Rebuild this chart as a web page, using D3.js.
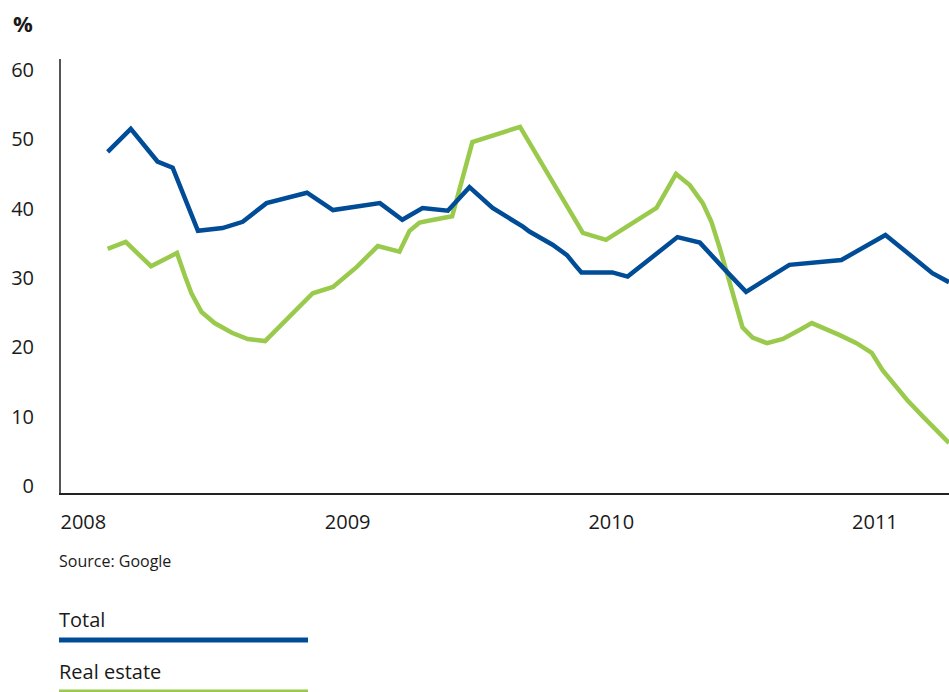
<!DOCTYPE html>
<html>
<head>
<meta charset="utf-8">
<script src="https://cdn.jsdelivr.net/npm/d3@7"></script>
<style>
  html, body { margin: 0; padding: 0; background: #fff; }
  svg { display: block; font-family: "Open Sans", "DejaVu Sans", sans-serif; }
</style>
</head>
<body>
<svg id="chart" width="949" height="692"></svg>
<script>
// Share of searches, %, at irregular sample dates
const totalDates = ["2008-03-07","2008-04-08","2008-05-15","2008-06-05","2008-07-10","2008-08-13","2008-09-10","2008-10-13","2008-12-08","2009-01-13","2009-03-19","2009-04-19","2009-05-17","2009-06-21","2009-07-21","2009-08-22","2009-10-03","2009-10-12","2009-11-13","2009-12-03","2009-12-14","2009-12-23","2010-02-04","2010-02-25","2010-05-05","2010-06-05","2010-07-07","2010-08-08","2010-10-07","2010-12-18","2011-02-17","2011-03-27","2011-04-23","2011-05-16"];
const totalValues = [48.2,51.5,46.8,45.9,36.8,37.2,38.1,40.8,42.3,39.8,40.8,38.4,40.1,39.7,43.1,40.1,37.4,36.7,34.8,33.3,31.9,30.8,30.8,30.2,35.9,35.1,31.5,28.0,31.9,32.6,36.2,33.0,30.7,29.4];

const realEstateDates = ["2008-03-07","2008-04-01","2008-05-06","2008-06-11","2008-06-22","2008-07-01","2008-07-15","2008-08-02","2008-08-26","2008-09-17","2008-10-11","2008-12-16","2009-01-13","2009-02-15","2009-03-16","2009-04-15","2009-04-29","2009-05-13","2009-05-27","2009-06-27","2009-07-25","2009-09-29","2009-12-25","2010-01-26","2010-04-06","2010-05-03","2010-05-22","2010-06-09","2010-06-21","2010-07-02","2010-07-14","2010-07-26","2010-08-03","2010-08-17","2010-09-06","2010-09-28","2010-10-21","2010-11-07","2010-12-15","2011-01-08","2011-01-29","2011-02-13","2011-03-19","2011-04-10","2011-05-16"];
const realEstateValues = [34.2,35.2,31.7,33.6,30.3,27.8,25.1,23.5,22.1,21.2,20.9,27.8,28.7,31.6,34.6,33.8,36.8,38.0,38.3,38.9,49.6,51.8,36.5,35.5,40.1,45.0,43.4,40.8,38.1,34.5,30.2,25.8,22.9,21.4,20.6,21.2,22.5,23.5,21.8,20.6,19.2,16.7,12.4,10.0,6.2];

const yTicks = [0, 10, 20, 30, 40, 50, 60];
const seriesNames = ["Total", "Real estate"];
const seriesColors = ["#004c97", "#9aca4c"];

const parse = d3.timeParse("%Y-%m-%d");
const series = [
  { name: seriesNames[0], color: seriesColors[0],
    points: totalDates.map((d, i) => ({ date: parse(d), value: totalValues[i] })) },
  { name: seriesNames[1], color: seriesColors[1],
    points: realEstateDates.map((d, i) => ({ date: parse(d), value: realEstateValues[i] })) }
];

const svg = d3.select("#chart");

const x = d3.scaleTime()
  .domain([new Date(2008, 0, 1), new Date(2011, 4, 16)])
  .range([60, 949]);
const y = d3.scaleLinear().domain([0, 60]).range([486, 70]);

// Unit label
svg.append("text")
  .attr("x", 13).attr("y", 32)
  .attr("font-size", 22).attr("font-weight", "bold").attr("fill", "#1a1a1a")
  .text("%");

// Y axis labels
const yAxis = d3.axisLeft(y).tickValues(yTicks).tickSize(0).tickPadding(0);
const gy = svg.append("g").attr("transform", "translate(34,0)").call(yAxis);
gy.select(".domain").remove();
gy.selectAll("text")
  .attr("font-family", "'Open Sans', sans-serif")
  .attr("font-size", 20).attr("fill", "#1a1a1a");

// X axis labels, one per year, left-aligned at the year start
const xAxis = d3.axisBottom(x).ticks(d3.timeYear.every(1)).tickFormat(d3.timeFormat("%Y")).tickSize(0).tickPadding(0);
const gx = svg.append("g").attr("transform", "translate(0,494)").call(xAxis);
gx.select(".domain").remove();
gx.selectAll("text")
  .attr("text-anchor", "start")
  .attr("dy", null)
  .attr("y", 35)
  .attr("font-family", "'Open Sans', sans-serif")
  .attr("font-size", 20).attr("fill", "#1a1a1a");

// Axis lines
svg.append("line")
  .attr("x1", 60).attr("x2", 60).attr("y1", 59).attr("y2", 495)
  .attr("stroke", "#555").attr("stroke-width", 2);
svg.append("line")
  .attr("x1", 59).attr("x2", 949).attr("y1", 494).attr("y2", 494)
  .attr("stroke", "#222").attr("stroke-width", 2);

// Lines
svg.append("clipPath").attr("id", "plot-clip")
  .append("rect").attr("x", 61).attr("y", 0).attr("width", 888).attr("height", 493);

const line = d3.line()
  .x(d => x(d.date))
  .y(d => y(d.value))
  .curve(d3.curveLinear);

svg.append("g").attr("clip-path", "url(#plot-clip)")
  .selectAll("path")
  .data(series.slice().reverse())
  .join("path")
  .attr("d", d => line(d.points))
  .attr("fill", "none")
  .attr("stroke", d => d.color)
  .attr("stroke-width", 4.5)
  .attr("stroke-linejoin", "miter");

// Source note
svg.append("text")
  .attr("x", 59).attr("y", 567)
  .attr("font-size", 16).attr("fill", "#1a1a1a")
  .text("Source: Google");

// Legend
const legend = svg.append("g")
  .selectAll("g")
  .data(series)
  .join("g")
  .attr("transform", (d, i) => `translate(0,${i * 52})`);
legend.append("text")
  .attr("x", 59).attr("y", 627)
  .attr("font-size", 20).attr("fill", "#1a1a1a")
  .text(d => d.name);
legend.append("line")
  .attr("x1", 59).attr("x2", 308).attr("y1", 640).attr("y2", 640)
  .attr("stroke", d => d.color).attr("stroke-width", 5);
</script>
</body>
</html>
